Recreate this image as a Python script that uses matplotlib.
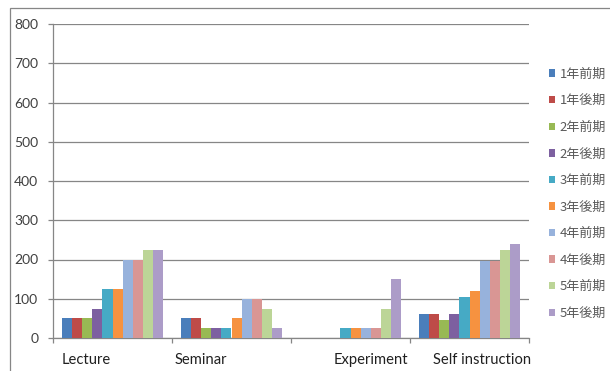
import numpy as np
import matplotlib
matplotlib.use('Agg')
import matplotlib.pyplot as plt
from matplotlib.patches import Patch, Rectangle

# ── Datos ────────────────────────────────────────────────────────────────
categories = ['Lecture', 'Seminar', 'Experiment', 'Self instruction']
series = ['1年前期', '1年後期', '2年前期', '2年後期', '3年前期',
          '3年後期', '4年前期', '4年後期', '5年前期', '5年後期']
values = {
    '1年前期': [50, 50, 0, 60],
    '1年後期': [50, 50, 0, 60],
    '2年前期': [50, 25, 0, 45],
    '2年後期': [75, 25, 0, 60],
    '3年前期': [125, 25, 25, 105],
    '3年後期': [125, 50, 25, 120],
    '4年前期': [200, 100, 25, 195],
    '4年後期': [200, 100, 25, 195],
    '5年前期': [225, 75, 75, 225],
    '5年後期': [225, 25, 150, 240],
}
y_ticks = [0, 100, 200, 300, 400, 500, 600, 700, 800]

colors = ['#4A7EBB', '#BE4B48', '#98B954', '#7D60A0', '#46AAC5',
          '#F69240', '#97B2DC', '#D99694', '#BCD597', '#AC9CC8']
# desplazamiento de las etiquetas del eje x (como en la imagen original)
label_shift = [-0.223, -0.256, 0.172, 0.105]

W, H = 610, 371
fig = plt.figure(figsize=(W / 100, H / 100), dpi=100)
ax = fig.add_axes([53 / W, (H - 338) / H, (529 - 53) / W, (338 - 24) / H])

x = np.arange(len(categories))
bw = 0.0857
for i, s in enumerate(series):
    ax.bar(x + (i - 4.5) * bw, values[s], width=bw, color=colors[i],
           edgecolor='none', zorder=3)

grey = '#868686'
ax.set_xlim(-0.5, len(categories) - 0.5)
ax.set_ylim(0, 800)
ax.set_yticks(y_ticks)
ax.yaxis.grid(True, color=grey, lw=0.9, zorder=0)
for side in ['top', 'right']:
    ax.spines[side].set_visible(False)
for side in ['left', 'bottom']:
    ax.spines[side].set_color(grey)
    ax.spines[side].set_linewidth(0.9)

ax.tick_params(axis='y', length=3.5, width=0.9, color=grey, pad=7,
               labelsize=10, labelcolor='#404040')
for lab in ax.get_yticklabels():
    lab.set_family('Lato')

ax.set_xticks(x + np.array(label_shift))
ax.set_xticklabels(categories, fontsize=10.6, color='#202020', family='Lato')
ax.tick_params(axis='x', length=0, pad=11)
ax.set_xticks(np.arange(len(categories) + 1) - 0.5, minor=True)
ax.tick_params(axis='x', which='minor', length=3.5, width=0.9, color=grey)

handles = [Patch(facecolor=c, edgecolor='none') for c in colors]
leg = fig.legend(handles, series, loc='upper left',
                 bbox_to_anchor=(537 / W, (H - 56) / H),
                 frameon=False, handlelength=0.5, handleheight=0.5,
                 handletextpad=0.35, labelspacing=1.04,
                 prop={'family': ['Noto Sans CJK JP', 'DejaVu Sans'], 'size': 9.4})
for t in leg.get_texts():
    t.set_color('#595959')

fig.patches.append(Rectangle((10 / W, -0.1), 1.0, (H - 8) / H + 0.1,
                             transform=fig.transFigure, fill=False,
                             edgecolor=grey, lw=0.9))

fig.savefig('out.png', dpi=100)
